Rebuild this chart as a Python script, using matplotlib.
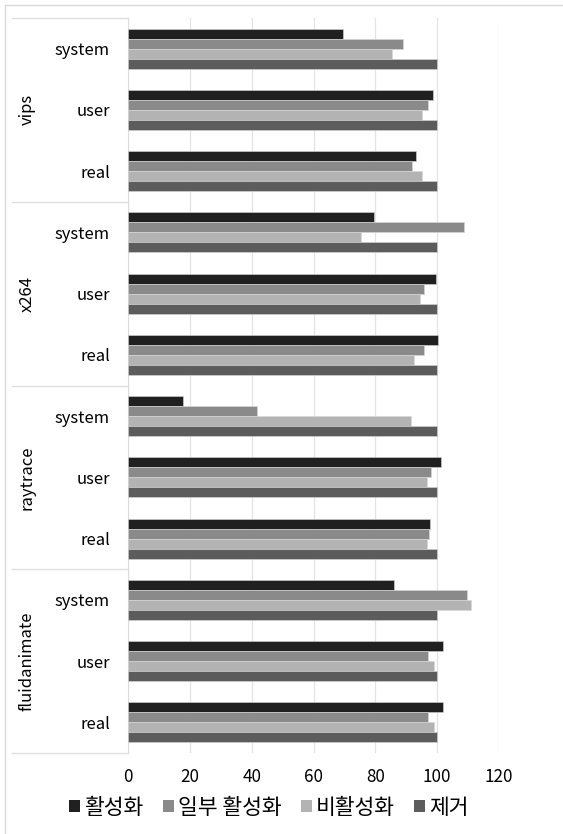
import numpy as np
import matplotlib
matplotlib.use("Agg")
import matplotlib.pyplot as plt
from matplotlib.lines import Line2D
from matplotlib.patches import Patch
import matplotlib.transforms as mtransforms

plt.rcParams['font.family'] = ['Noto Sans CJK KR', 'DejaVu Sans']

# benchmarks listed bottom-up, each with real/user/system rows
benchmarks = ["fluidanimate", "raytrace", "x264", "vips"]
metrics = ["real", "user", "system"]

series_names = ["활성화", "일부 활성화", "비활성화", "제거"]
series_colors = ["#202020", "#8a8a8a", "#b3b3b3", "#5c5c5c"]

# values in row order: fluidanimate real,user,system, raytrace ..., x264 ..., vips ...
enabled = [101.9, 102.0, 85.9, 97.8, 101.1, 17.8, 100.2, 99.6, 79.6, 93.0, 98.5, 69.4]
partial = [97.1, 97.1, 109.6, 97.3, 98.0, 41.7, 95.8, 95.8, 108.7, 92.0, 96.9, 88.9]
disabled = [99.0, 99.0, 111.0, 96.8, 96.8, 91.5, 92.6, 94.6, 75.3, 95.0, 95.2, 85.5]
removed = [100, 100, 100, 100, 100, 100, 100, 100, 100, 100, 100, 100]
series = [enabled, partial, disabled, removed]

W, H = 563, 834
fig = plt.figure(figsize=(W / 100, H / 100), dpi=100)
ax = fig.add_axes([128 / W, 1 - 753 / H, 371 / W, 735 / H])

n = len(benchmarks) * len(metrics)
pos = np.arange(n)
bh = 0.163
offsets = [1.5 * bh, 0.5 * bh, -0.5 * bh, -1.5 * bh]
for vals, col, off in zip(series, series_colors, offsets):
    ax.barh(pos + off, vals, height=bh, color=col, edgecolor="#d8d8d8",
            linewidth=0.4, zorder=3)

ax.set_xlim(0, 120)
ax.set_ylim(-0.5, n - 0.5)
ax.set_xticks(range(0, 121, 20))
ax.grid(axis="x", color="#e4e4e4", linewidth=0.9, zorder=0)
ax.set_yticks(pos)
ax.set_yticklabels(metrics * len(benchmarks))
ax.tick_params(axis="y", length=0, pad=13, labelsize=12)
ax.tick_params(axis="x", length=0, pad=11, labelsize=12.3)
for s in ["top", "right", "bottom"]:
    ax.spines[s].set_visible(False)
ax.spines["left"].set_color("#dcdcdc")

# group separators and group names to the left of the axis
trans = mtransforms.blended_transform_factory(ax.transAxes, ax.transData)
x0 = (12 - 128) / 371
for b in np.arange(-0.5, n, 3):
    ax.plot([x0, 0], [b, b], color="#e0e0e0", lw=1, transform=trans, clip_on=False)
for i, name in enumerate(benchmarks):
    ax.text((27 - 128) / 371, 3 * i + 1, name, rotation=90, ha="center", va="center",
            fontsize=12, transform=trans)

# chart frame
fig.add_artist(Line2D([5 / W, 1], [1 - 5 / H, 1 - 5 / H], color="#d9d9d9", lw=1))
fig.add_artist(Line2D([5 / W, 5 / W], [0, 1 - 5 / H], color="#d9d9d9", lw=1))

handles = [Patch(facecolor=c, edgecolor="none") for c in series_colors]
fig.legend(handles, series_names, loc="center", bbox_to_anchor=(269 / W, 1 - 808 / H),
           ncol=4, frameon=False, fontsize=15.5, handlelength=0.5, handleheight=0.5,
           handletextpad=0.2, columnspacing=0.9)

fig.savefig("out.png", dpi=100)
